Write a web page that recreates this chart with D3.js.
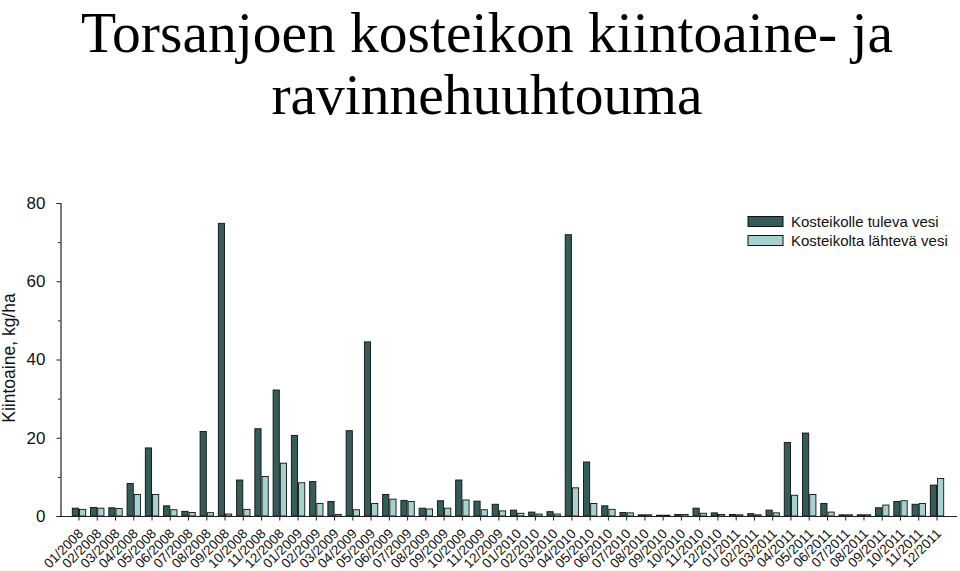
<!DOCTYPE html>
<html>
<head>
<meta charset="utf-8">
<script src="https://cdn.jsdelivr.net/npm/d3@7"></script>
<style>
  html, body { margin: 0; padding: 0; background: #fff; }
  svg { display: block; }
</style>
</head>
<body>
<svg id="chart" width="960" height="571"></svg>
<script>
const titleLines = ["Torsanjoen kosteikon kiintoaine- ja", "ravinnehuuhtouma"];
const yLabel = "Kiintoaine, kg/ha";
const seriesNames = ["Kosteikolle tuleva vesi", "Kosteikolta lähtevä vesi"];
const months = [];
const years = [2008, 2009, 2010, 2011];
years.forEach(y => { for (let m = 1; m <= 12; m++) months.push(String(m).padStart(2, "0") + "/" + y); });

const inflow = [
  2.0, 2.2, 2.1, 8.3, 17.4, 2.6, 1.2, 21.6, 74.8, 9.2, 22.3, 32.2,
  20.6, 8.8, 3.7, 21.8, 44.5, 5.5, 4.0, 2.0, 3.9, 9.2, 3.8, 3.0,
  1.5, 1.0, 1.1, 71.9, 13.8, 2.6, 0.9, 0.3, 0.2, 0.4, 2.0, 0.8,
  0.4, 0.6, 1.5, 18.8, 21.2, 3.2, 0.3, 0.3, 2.1, 3.7, 3.0, 7.9
];
const outflow = [
  1.7, 2.0, 1.9, 5.5, 5.5, 1.6, 0.9, 0.85, 0.5, 1.7, 10.1, 13.5,
  8.5, 3.2, 0.4, 1.6, 3.2, 4.3, 3.7, 1.8, 2.0, 4.1, 1.6, 1.3,
  0.7, 0.5, 0.5, 7.2, 3.2, 1.7, 0.8, 0.3, 0.2, 0.4, 0.7, 0.4,
  0.3, 0.3, 0.8, 5.3, 5.5, 1.0, 0.3, 0.3, 2.8, 3.9, 3.2, 9.6
];
const yMajorTicks = [0, 20, 40, 60, 80];
const yMinorTicks = [10, 30, 50, 70];
const colors = ["#345c59", "#a6d1cf"];

const svg = d3.select("#chart");
const axisColor = "#222";
const sans = "'Liberation Sans', Arial, sans-serif";

// Title
svg.append("g").selectAll("text").data(titleLines).join("text")
  .attr("x", 487)
  .attr("y", (d, i) => 52 + i * 62)
  .attr("text-anchor", "middle")
  .attr("font-family", "'Liberation Serif', 'Times New Roman', serif")
  .attr("font-size", 57.5)
  .attr("fill", "#000")
  .text(d => d);

const x = d3.scaleBand().domain(months).range([69.87, 946.13]).padding(0);
const y = d3.scaleLinear().domain([0, 80]).range([516, 203]);
const bw = 6.2;

const g = svg.append("g");

// bars
const cats = months.map((m, i) => ({ m, a: inflow[i], b: outflow[i] }));
g.append("g").selectAll("rect").data(cats).join("rect")
  .attr("x", d => x(d.m) + x.bandwidth() / 2 - 0.5 - bw)
  .attr("y", d => y(d.a))
  .attr("width", bw)
  .attr("height", d => y(0) - y(d.a))
  .attr("fill", colors[0])
  .attr("stroke", "#111")
  .attr("stroke-width", 0.9);
g.append("g").selectAll("rect").data(cats).join("rect")
  .attr("x", d => x(d.m) + x.bandwidth() / 2 + 0.5)
  .attr("y", d => y(d.b))
  .attr("width", bw)
  .attr("height", d => y(0) - y(d.b))
  .attr("fill", colors[1])
  .attr("stroke", "#111")
  .attr("stroke-width", 0.9);

// Y axis
const yAxis = d3.axisLeft(y).tickValues(yMajorTicks).tickSize(4).tickPadding(11).tickFormat(d3.format("d"));
const ya = g.append("g").attr("transform", "translate(60.5,0)").call(yAxis);
ya.select(".domain").attr("stroke", axisColor).attr("stroke-width", 1.2);
ya.selectAll(".tick line").attr("stroke", axisColor).attr("stroke-width", 1);
ya.selectAll(".tick text").attr("font-family", sans).attr("font-size", 17).attr("fill", "#111");
const yMinor = d3.axisLeft(y).tickValues(yMinorTicks).tickSize(2.5).tickFormat("");
const ym = g.append("g").attr("transform", "translate(60.5,0)").call(yMinor);
ym.select(".domain").remove();
ym.selectAll(".tick line").attr("stroke", axisColor);

// X axis
const xAxis = d3.axisBottom(x).tickSize(4).tickSizeOuter(0);
const xa = g.append("g").attr("transform", "translate(0,516.5)").call(xAxis);
xa.select(".domain").remove();
xa.append("line").attr("x1", 57).attr("x2", 957).attr("y1", 0).attr("y2", 0)
  .attr("stroke", axisColor).attr("stroke-width", 1.2);
xa.selectAll(".tick line").attr("stroke", axisColor);
xa.selectAll(".tick text")
  .attr("font-family", sans)
  .attr("font-size", 13.5)
  .attr("fill", "#111")
  .attr("text-anchor", "end")
  .attr("dy", 0)
  .attr("y", 0)
  .attr("transform", "translate(5,18) rotate(-45)");

// Y label
svg.append("text")
  .attr("transform", "translate(15,358) rotate(-90)")
  .attr("text-anchor", "middle")
  .attr("font-family", sans)
  .attr("font-size", 17.5)
  .attr("fill", "#111")
  .text(yLabel);

// Legend
const leg = svg.append("g").attr("transform", "translate(748,216.5)");
const li = leg.selectAll("g").data(seriesNames).join("g")
  .attr("transform", (d, i) => `translate(0,${i * 19})`);
li.append("rect").attr("width", 35).attr("height", 10)
  .attr("fill", (d, i) => colors[i]).attr("stroke", "#111").attr("stroke-width", 1);
li.append("text").attr("x", 43).attr("y", 5).attr("dy", "0.35em")
  .attr("font-family", sans)
  .attr("font-size", 15)
  .attr("fill", "#111")
  .text(d => d);
</script>
</body>
</html>
